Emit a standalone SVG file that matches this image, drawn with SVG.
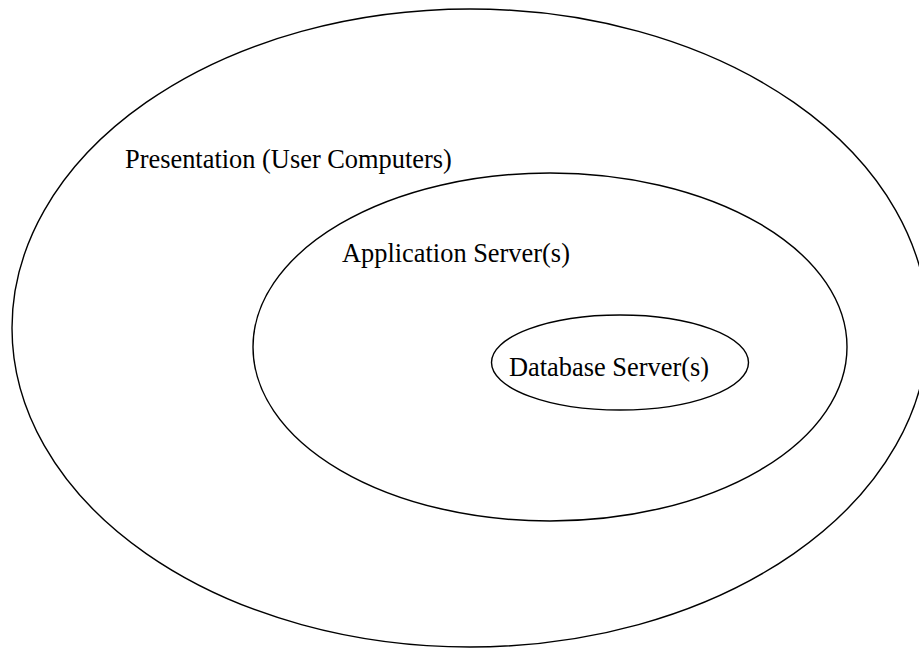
<svg xmlns="http://www.w3.org/2000/svg" width="919" height="650" viewBox="0 0 919 650">
<style>
.ring{fill:none;stroke:#000;stroke-width:1.4}
.lbl{font-family:"Liberation Serif","Times New Roman",serif;font-size:26.4px;fill:#000}
</style>
<rect width="919" height="650" fill="#fff"/>
<g id="presentation">
<ellipse class="ring" cx="470" cy="328" rx="458" ry="319"/>
<text class="lbl" x="125" y="168">Presentation (User Computers)</text>
</g>
<g id="application">
<ellipse class="ring" cx="550" cy="347" rx="297" ry="174"/>
<text class="lbl" x="342" y="262">Application Server(s)</text>
</g>
<g id="database">
<ellipse class="ring" cx="620" cy="362.5" rx="128.5" ry="47.5"/>
<text class="lbl" x="509" y="376">Database Server(s)</text>
</g>
<g id="connectors"></g>
</svg>
